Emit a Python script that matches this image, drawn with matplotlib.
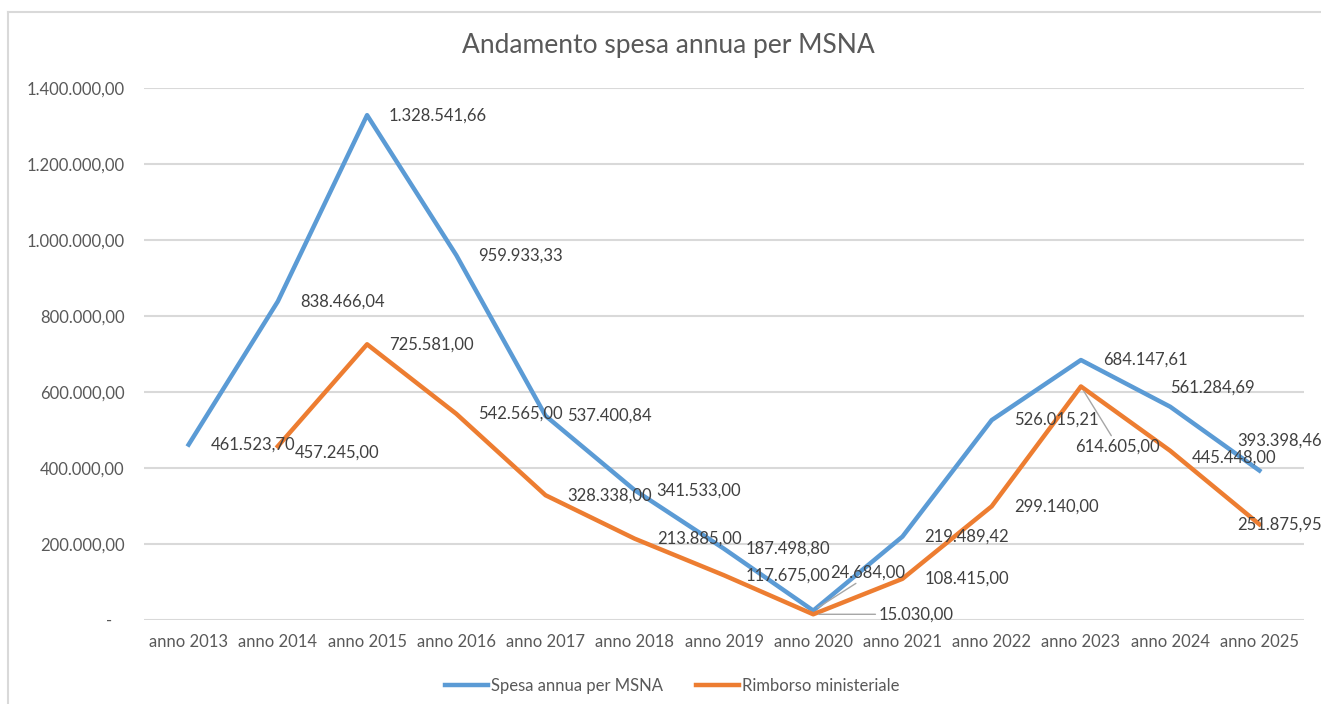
import matplotlib
matplotlib.use("Agg")
import matplotlib.pyplot as plt
from matplotlib.lines import Line2D
from matplotlib.ticker import FuncFormatter, MultipleLocator

# dati
anni = ["anno 2013", "anno 2014", "anno 2015", "anno 2016", "anno 2017",
        "anno 2018", "anno 2019", "anno 2020", "anno 2021", "anno 2022",
        "anno 2023", "anno 2024", "anno 2025"]
spesa = [461523.70, 838466.04, 1328541.66, 959933.33, 537400.84, 341533.00,
         187498.80, 24684.00, 219489.42, 526015.21, 684147.61, 561284.69,
         393398.46]
rimborso = [None, 457245.00, 725581.00, 542565.00, 328338.00, 213885.00,
            117675.00, 15030.00, 108415.00, 299140.00, 614605.00, 445448.00,
            251875.95]

titolo = "Andamento spesa annua per MSNA"
nomi_serie = ["Spesa annua per MSNA", "Rimborso ministeriale"]

BLU = "#5B9BD5"
ARANCIO = "#ED7D31"
GRIGIO = "#595959"
GRIGLIA = "#D9D9D9"

plt.rcParams['font.family'] = ['Lato', 'DejaVu Sans']


def formato_it(v):
    # formato italiano: 1.234.567,89 ; zero come "-"
    if abs(v) < 0.5:
        return "-   "
    s = f"{v:,.2f}"
    return s.replace(",", "X").replace(".", ",").replace("X", ".")


# spostamenti etichette (pixel, x a destra, y in alto) -- default (22, 0)
off_spesa = {7: (17, 38), 11: (0, 19), 12: (-22, 30)}
off_rimb = {1: (17, -6), 7: (65, 0), 10: (-6, -60), 11: (22, -7), 12: (-22, 0)}
leader_spesa = {7: (0.4, 0.0)}
leader_rimb = {7: (0.0, 0.5), 10: (0.45, 1.0)}

fig = plt.figure(figsize=(13.21, 7.04), dpi=100)
ax = fig.add_axes([144 / 1321, 1 - 620 / 704, 1160 / 1321, 532 / 704])

x = list(range(len(anni)))
x_r = [i for i, v in zip(x, rimborso) if v is not None]
y_r = [v for v in rimborso if v is not None]

ax.plot(x, spesa, color=BLU, lw=3.2, solid_joinstyle='round', label=nomi_serie[0], zorder=3)
ax.plot(x_r, y_r, color=ARANCIO, lw=3.2, solid_joinstyle='round', label=nomi_serie[1], zorder=3)


def etichette(xs, ys, offs, leaders):
    for i, (xi, yi) in zip(xs, zip(xs, ys)):
        dx, dy = offs.get(i, (22, 0))
        kw = {}
        if i in leaders:
            kw['arrowprops'] = dict(arrowstyle='-', color='#A6A6A6', lw=1,
                                    relpos=leaders[i], shrinkA=0, shrinkB=4)
        ax.annotate(formato_it(yi), xy=(xi, yi), xytext=(dx, dy),
                    textcoords='offset pixels', ha='left', va='center',
                    fontsize=12, color='#404040', zorder=4, annotation_clip=False, **kw)


etichette(x, spesa, off_spesa, leader_spesa)
etichette(x_r, y_r, off_rimb, leader_rimb)

ax.set_xlim(-0.5, len(anni) - 0.5)
ax.set_ylim(0, 1400000)
ax.yaxis.set_major_locator(MultipleLocator(200000))
ax.yaxis.set_major_formatter(FuncFormatter(lambda v, p: formato_it(v)))
ax.set_xticks(x)
ax.set_xticklabels(anni)
ax.tick_params(axis='both', length=0, labelsize=12, labelcolor=GRIGIO)
ax.tick_params(axis='y', pad=14)
ax.tick_params(axis='x', pad=10)
ax.grid(axis='y', color=GRIGLIA, lw=1.5)
ax.set_axisbelow(True)
for s in ax.spines.values():
    s.set_visible(False)

fig.text(668 / 1321, 1 - 46 / 704, titolo, ha='center', va='center',
         fontsize=19, color=GRIGIO)

fig.legend(loc='center', bbox_to_anchor=(672 / 1321, 1 - 686 / 704), ncol=2,
           frameon=False, fontsize=12, labelcolor=GRIGIO, handlelength=2.6,
           handletextpad=0.15, columnspacing=2.0)

# cornice dell'area grafico
fig.add_artist(Line2D([8 / 1321, 1], [1 - 12 / 704] * 2, color=GRIGLIA, lw=1.5))
fig.add_artist(Line2D([8 / 1321] * 2, [0, 1 - 12 / 704], color=GRIGLIA, lw=1.5))

fig.savefig("out.png", dpi=100)
